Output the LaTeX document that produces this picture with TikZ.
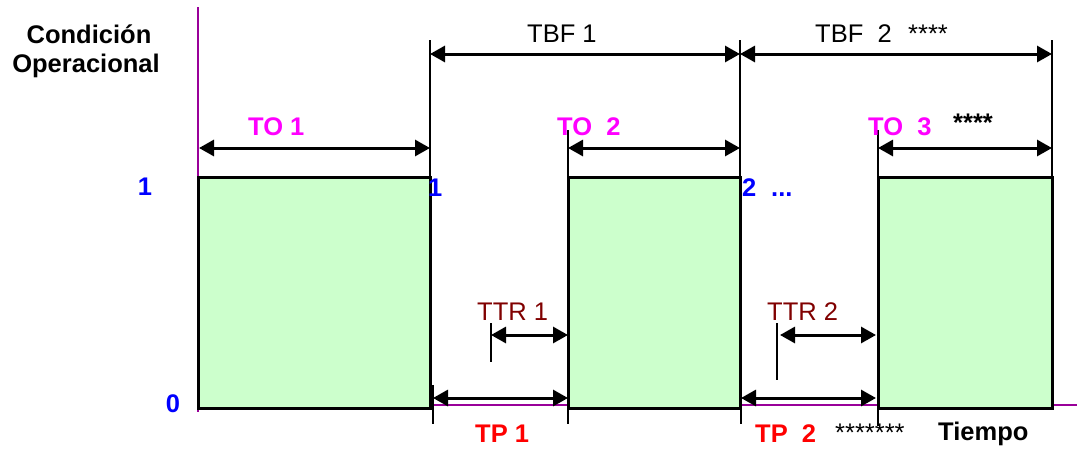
\documentclass[tikz,border=0pt]{standalone}
\usepackage{fontspec}
\setmainfont{Liberation Sans}
\usetikzlibrary{arrows.meta}
\definecolor{boxgreen}{HTML}{CCFFCC}
\definecolor{axpurple}{HTML}{990099}
\definecolor{ttrred}{HTML}{800000}
\definecolor{mag}{HTML}{FF00FF}
\definecolor{blu}{HTML}{0000FF}
\definecolor{tpred}{HTML}{FF0000}
\tikzset{
 txt/.style={inner sep=0pt, anchor=base west, font=\fontsize{25.5}{30}\selectfont},
 btxt/.style={txt, font=\fontsize{25.5}{30}\selectfont\bfseries},
 axisline/.style={draw=axpurple, line width=2.5pt},
 statebox/.style={draw=black, line width=3pt, fill=boxgreen, inner sep=0pt, outer sep=0pt, anchor=north west},
 tickline/.style={draw=black, line width=2pt},
 dimline/.style={draw=black, line width=3pt, {Triangle[length=15pt,width=16pt]}-{Triangle[length=15pt,width=16pt]}},
}
\begin{document}
\begin{tikzpicture}[x=1pt,y=-1pt]
\useasboundingbox (0,0) rectangle (1077,448);
% axes
\coordinate (yaxtop) at (198,7);
\coordinate (yaxbot) at (198,412);
\coordinate (xaxl) at (430,405);
\coordinate (xaxr) at (1077,405);
\draw[axisline] (yaxtop) -- (yaxbot);
\draw[axisline] (xaxl) -- (xaxr);
% operating boxes
\node[statebox, minimum width=232pt, minimum height=231pt] (b1) at (198,177) {};
\node[statebox, minimum width=172pt, minimum height=231pt] (b2) at (568,177) {};
\node[statebox, minimum width=174pt, minimum height=231pt] (b3) at (878,177) {};
% top ticks
\coordinate (k1) at (430,40);
\coordinate (k2) at (740,40);
\coordinate (k3) at (1052,40);
\coordinate (k4) at (568,130);
\coordinate (k5) at (878,130);
\draw[tickline] (k1) -- (b1.north east);
\draw[tickline] (k2) -- (b2.north east);
\draw[tickline] (k3) -- (b3.north east);
\draw[tickline] (k4) -- (b2.north west);
\draw[tickline] (k5) -- (b3.north west);
% TBF arrows
\coordinate (tbfa) at (430,54);
\coordinate (tbfb) at (740,54);
\coordinate (tbfc) at (1052,54);
\draw[dimline] (tbfa) -- (tbfb);
\draw[dimline] (tbfb) -- (tbfc);
% TO arrows
\coordinate (toa1) at (199,148);
\coordinate (toa2) at (430,148);
\coordinate (tob1) at (568,148);
\coordinate (tob2) at (740,148);
\coordinate (toc1) at (878,148);
\coordinate (toc2) at (1052,148);
\draw[dimline] (toa1) -- (toa2);
\draw[dimline] (tob1) -- (tob2);
\draw[dimline] (toc1) -- (toc2);
% TTR
\coordinate (r1t) at (491,323);
\coordinate (r1b) at (491,362);
\coordinate (r1a) at (491,335);
\coordinate (r1e) at (568,335);
\draw[tickline] (r1t) -- (r1b);
\draw[dimline] (r1a) -- (r1e);
\coordinate (r2t) at (777,323);
\coordinate (r2b) at (777,380);
\coordinate (r2a) at (780,335);
\coordinate (r2e) at (876,335);
\draw[tickline] (r2t) -- (r2b);
\draw[dimline] (r2a) -- (r2e);
% TP
\coordinate (p1lt) at (433,385);
\coordinate (p1lb) at (433,424);
\coordinate (p1rt) at (568,385);
\coordinate (p1rb) at (568,424);
\coordinate (p2lt) at (741,385);
\coordinate (p2lb) at (741,424);
\coordinate (p2rt) at (878,385);
\coordinate (p2rb) at (878,426);
\draw[tickline] (p1lt) -- (p1lb);
\draw[tickline] (p1rt) -- (p1rb);
\draw[tickline] (p2lt) -- (p2lb);
\draw[tickline] (p2rt) -- (p2rb);
\coordinate (p1a) at (433,398);
\coordinate (p1e) at (568,398);
\coordinate (p2a) at (741,398);
\coordinate (p2e) at (876,398);
\draw[dimline] (p1a) -- (p1e);
\draw[dimline] (p2a) -- (p2e);
% texts
\node[btxt, anchor=base] (cond) at (89,43) {Condición};
\node[btxt, anchor=base] (oper) at (86,72) {Operacional};
\node[btxt, anchor=base, text=blu] (one) at (145,195) {1};
\node[btxt, anchor=base, text=blu] (zero) at (173,412) {0};
\node[btxt, text=blu] (one2) at (428,196) {1};
\node[btxt, text=blu] (two2) at (742,196) {2};
\node[btxt, text=blu] (dots) at (771,196) {...};
\node[txt] (tbf1) at (527,42) {TBF 1};
\node[txt] (tbf2) at (815,42) {TBF\ \ 2};
\node[txt] (st1) at (908,42) {****};
\node[btxt, text=mag] (to1) at (248,135) {TO 1};
\node[btxt, text=mag] (to2) at (557,135) {TO\ \ 2};
\node[btxt, text=mag] (to3) at (868,135) {TO\ \ 3};
\node[btxt] (st2) at (953,131) {****};
\node[txt, text=ttrred] (ttr1) at (477,320) {TTR 1};
\node[txt, text=ttrred] (ttr2) at (767,320) {TTR 2};
\node[btxt, text=tpred] (tp1) at (475,442) {TP 1};
\node[btxt, text=tpred] (tp2) at (755,442) {TP\ \ 2};
\node[txt] (st3) at (835,441) {*******};
\node[btxt] (tiempo) at (938,440) {Tiempo};
\end{tikzpicture}
\end{document}
